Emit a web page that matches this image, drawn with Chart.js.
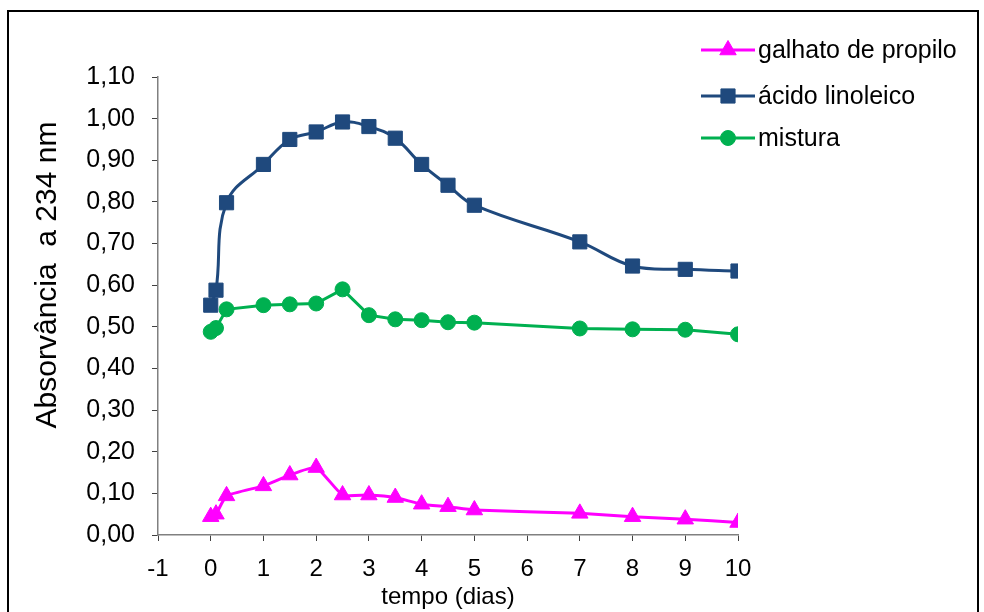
<!DOCTYPE html>
<html>
<head>
<meta charset="utf-8">
<script src="https://cdn.jsdelivr.net/npm/chart.js@4/dist/chart.umd.min.js"></script>
<style>
  html, body { margin: 0; padding: 0; background: #fff; }
  #wrap { position: relative; width: 984px; height: 612px; overflow: hidden; }
  #frame { position: absolute; left: 7px; top: 10px; width: 972px; height: 640px; border: 2px solid #000; box-sizing: border-box; pointer-events: none; }
  canvas { position: absolute; left: 0; top: 0; }
</style>
</head>
<body>
<div id="wrap">
  <canvas id="c" width="984" height="612"></canvas>
  <div id="frame"></div>
</div>
<script>
// ---- data ----
const seriesNames = ['galhato de propilo', 'ácido linoleico', 'mistura'];
const tempoDias = [0, 0.1, 0.3, 1, 1.5, 2, 2.5, 3, 3.5, 4, 4.5, 5, 7, 8, 9, 10];
const galhatoDePropilo = [0.044, 0.050, 0.094, 0.118, 0.144, 0.162, 0.096, 0.096, 0.090, 0.074, 0.068, 0.060, 0.052, 0.044, 0.038, 0.030];
const acidoLinoleico = [0.552, 0.588, 0.798, 0.890, 0.950, 0.968, 0.992, 0.981, 0.953, 0.890, 0.840, 0.792, 0.704, 0.646, 0.638, 0.634];
const mistura = [0.488, 0.497, 0.542, 0.552, 0.554, 0.556, 0.590, 0.528, 0.518, 0.516, 0.511, 0.510, 0.496, 0.494, 0.493, 0.482];
const xTicks = [-1, 0, 1, 2, 3, 4, 5, 6, 7, 8, 9, 10];
const yTicks = [0, 0.1, 0.2, 0.3, 0.4, 0.5, 0.6, 0.7, 0.8, 0.9, 1.0, 1.1];
const xTitle = 'tempo (dias)';
const yTitle = 'Absorvância  a 234 nm';

const toPts = (vals) => vals.map((v, i) => ({ x: tempoDias[i], y: v }));
const FONT = '"Liberation Sans", Arial, sans-serif';

const legendPlugin = {
  id: 'customLegend',
  afterDraw(chart) {
    const ctx = chart.ctx;
    const rows = [50, 96, 138];
    ctx.save();
    chart.data.datasets.forEach((ds, i) => {
      const y = rows[i];
      ctx.strokeStyle = ds.borderColor;
      ctx.lineWidth = ds.borderWidth;
      ctx.beginPath();
      ctx.moveTo(701, y);
      ctx.lineTo(755, y);
      ctx.stroke();
      ctx.fillStyle = ds.backgroundColor;
      ctx.strokeStyle = ds.borderColor;
      ctx.lineWidth = 1;
      Chart.helpers.drawPoint(ctx, {
        pointStyle: ds.pointStyle, radius: ds.pointRadius, borderWidth: 1
      }, 728, y);
      ctx.fillStyle = '#000';
      ctx.font = '25px ' + FONT;
      ctx.textBaseline = 'middle';
      ctx.textAlign = 'left';
      ctx.fillText(seriesNames[i], 758, y + 1);
    });
    // y axis title
    ctx.translate(56, 275);
    ctx.rotate(-Math.PI / 2);
    ctx.font = '30px ' + FONT;
    ctx.textAlign = 'center';
    ctx.textBaseline = 'alphabetic';
    ctx.fillStyle = '#000';
    ctx.fillText(yTitle, 0, 0);
    ctx.restore();
  }
};

new Chart(document.getElementById('c'), {
  type: 'line',
  data: {
    datasets: [
      {
        label: seriesNames[0], data: toPts(galhatoDePropilo),
        borderColor: '#FF00FF', backgroundColor: '#FF00FF', borderWidth: 3,
        pointStyle: 'triangle', pointRadius: 9.5, pointBorderWidth: 1, tension: 0.15
      },
      {
        label: seriesNames[1], data: toPts(acidoLinoleico),
        borderColor: '#1F497D', backgroundColor: '#1F497D', borderWidth: 3,
        pointStyle: 'rect', pointRadius: 10, pointBorderWidth: 1, tension: 0.4
      },
      {
        label: seriesNames[2], data: toPts(mistura),
        borderColor: '#00B050', backgroundColor: '#00B050', borderWidth: 3,
        pointStyle: 'circle', pointRadius: 7.5, pointBorderWidth: 1, tension: 0
      }
    ]
  },
  options: {
    responsive: false,
    animation: false,
    layout: { padding: { left: 0, right: 246, top: 77, bottom: 0 } },
    plugins: { legend: { display: false }, tooltip: { enabled: false } },
    scales: {
      x: {
        type: 'linear', min: -1, max: 10,
        afterFit: (s) => { s.height = 612 - 535; },
        afterBuildTicks: (s) => { s.ticks = xTicks.map(v => ({ value: v })); },
        ticks: { color: '#000', font: { family: FONT, size: 24 }, padding: 14, maxRotation: 0 },
        grid: { drawOnChartArea: false, drawTicks: true, tickLength: 6, color: '#808080', tickColor: '#404040' },
        border: { color: '#808080', width: 1.5 },
        title: { display: true, text: xTitle, color: '#000', font: { family: FONT, size: 24 }, padding: { top: 0, bottom: 0 } }
      },
      y: {
        min: 0, max: 1.1,
        afterFit: (s) => { s.width = 158; },
        afterBuildTicks: (s) => { s.ticks = yTicks.map(v => ({ value: v })); },
        ticks: { color: '#000', font: { family: FONT, size: 25 }, padding: 17,
          callback: (v) => Number(v).toFixed(2).replace('.', ',') },
        grid: { drawOnChartArea: false, drawTicks: true, tickLength: 6, color: '#808080', tickColor: '#404040' },
        border: { color: '#808080', width: 1.5 }
      }
    }
  },
  plugins: [legendPlugin]
});
</script>
</body>
</html>
